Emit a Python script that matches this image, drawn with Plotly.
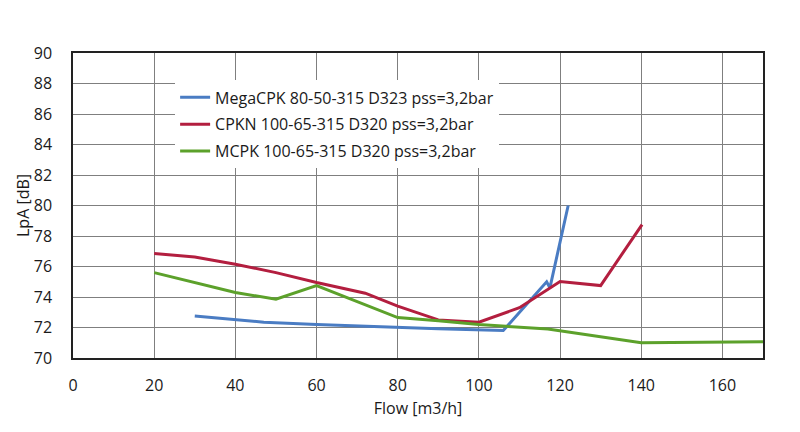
import plotly.graph_objects as go

blue_x = [30, 47, 60, 80, 90, 106, 116.7, 117.5, 122]
blue_y = [72.75, 72.35, 72.2, 72.0, 71.92, 71.8, 75.0, 74.6, 80.0]

red_x = [20, 30, 40, 50, 60, 72, 80, 90, 100, 110, 120, 130, 140.2]
red_y = [76.85, 76.62, 76.15, 75.6, 74.95, 74.25, 73.4, 72.5, 72.35, 73.3, 75.02, 74.75, 78.75]

green_x = [20, 40, 50, 60, 80, 90, 100, 117, 140, 170]
green_y = [75.6, 74.3, 73.85, 74.75, 72.65, 72.45, 72.2, 71.9, 71.0, 71.07]

names = ["MegaCPK 80-50-315 D323 pss=3,2bar",
         "CPKN 100-65-315 D320 pss=3,2bar",
         "MCPK 100-65-315 D320 pss=3,2bar"]
colors = ["#4A7CC3", "#B31E3F", "#5CA12B"]

x_ticks = [0, 20, 40, 60, 80, 100, 120, 140, 160]
y_ticks = [70, 72, 74, 76, 78, 80, 82, 84, 86, 88, 90]

fig = go.Figure()
for i, (xs, ys, nm, c) in enumerate(zip([blue_x, red_x, green_x], [blue_y, red_y, green_y], names, colors)):
    fig.add_trace(go.Scatter(x=xs, y=ys, mode="lines", name=nm, legendgroup=f"g{i}",
                             line=dict(color=c, width=3)))

font = "Open Sans, Noto Sans, sans-serif"
fig.update_layout(
    width=800, height=432,
    margin=dict(l=73, r=37, t=53, b=74),
    paper_bgcolor="white", plot_bgcolor="white",
    font=dict(family=font, size=16, color="#1a1a1a"),
    showlegend=True,
    legend=dict(x=0.148, y=0.91, xanchor="left", yanchor="top",
                bgcolor="white", font=dict(size=16, family=font),
                traceorder="grouped", tracegroupgap=3, itemwidth=30),
    xaxis=dict(range=[0, 170], tickvals=x_ticks, showgrid=True,
               gridcolor="#7f7f7f", gridwidth=1, showline=True,
               linecolor="#222222", linewidth=1.5, mirror=True,
               zeroline=False, ticks="", ticklabelstandoff=12,
               tickfont=dict(size=16),
               title=dict(text="Flow [m3/h]", font=dict(size=16), standoff=8)),
    yaxis=dict(range=[70, 90], tickvals=y_ticks, showgrid=True,
               gridcolor="#7f7f7f", gridwidth=1, showline=True,
               linecolor="#222222", linewidth=1.5, mirror=True,
               zeroline=False, ticks="", ticklabelstandoff=16,
               tickfont=dict(size=16),
               title=dict(text="LpA [dB]", font=dict(size=16), standoff=0)),
)

fig.write_html("out.html")
